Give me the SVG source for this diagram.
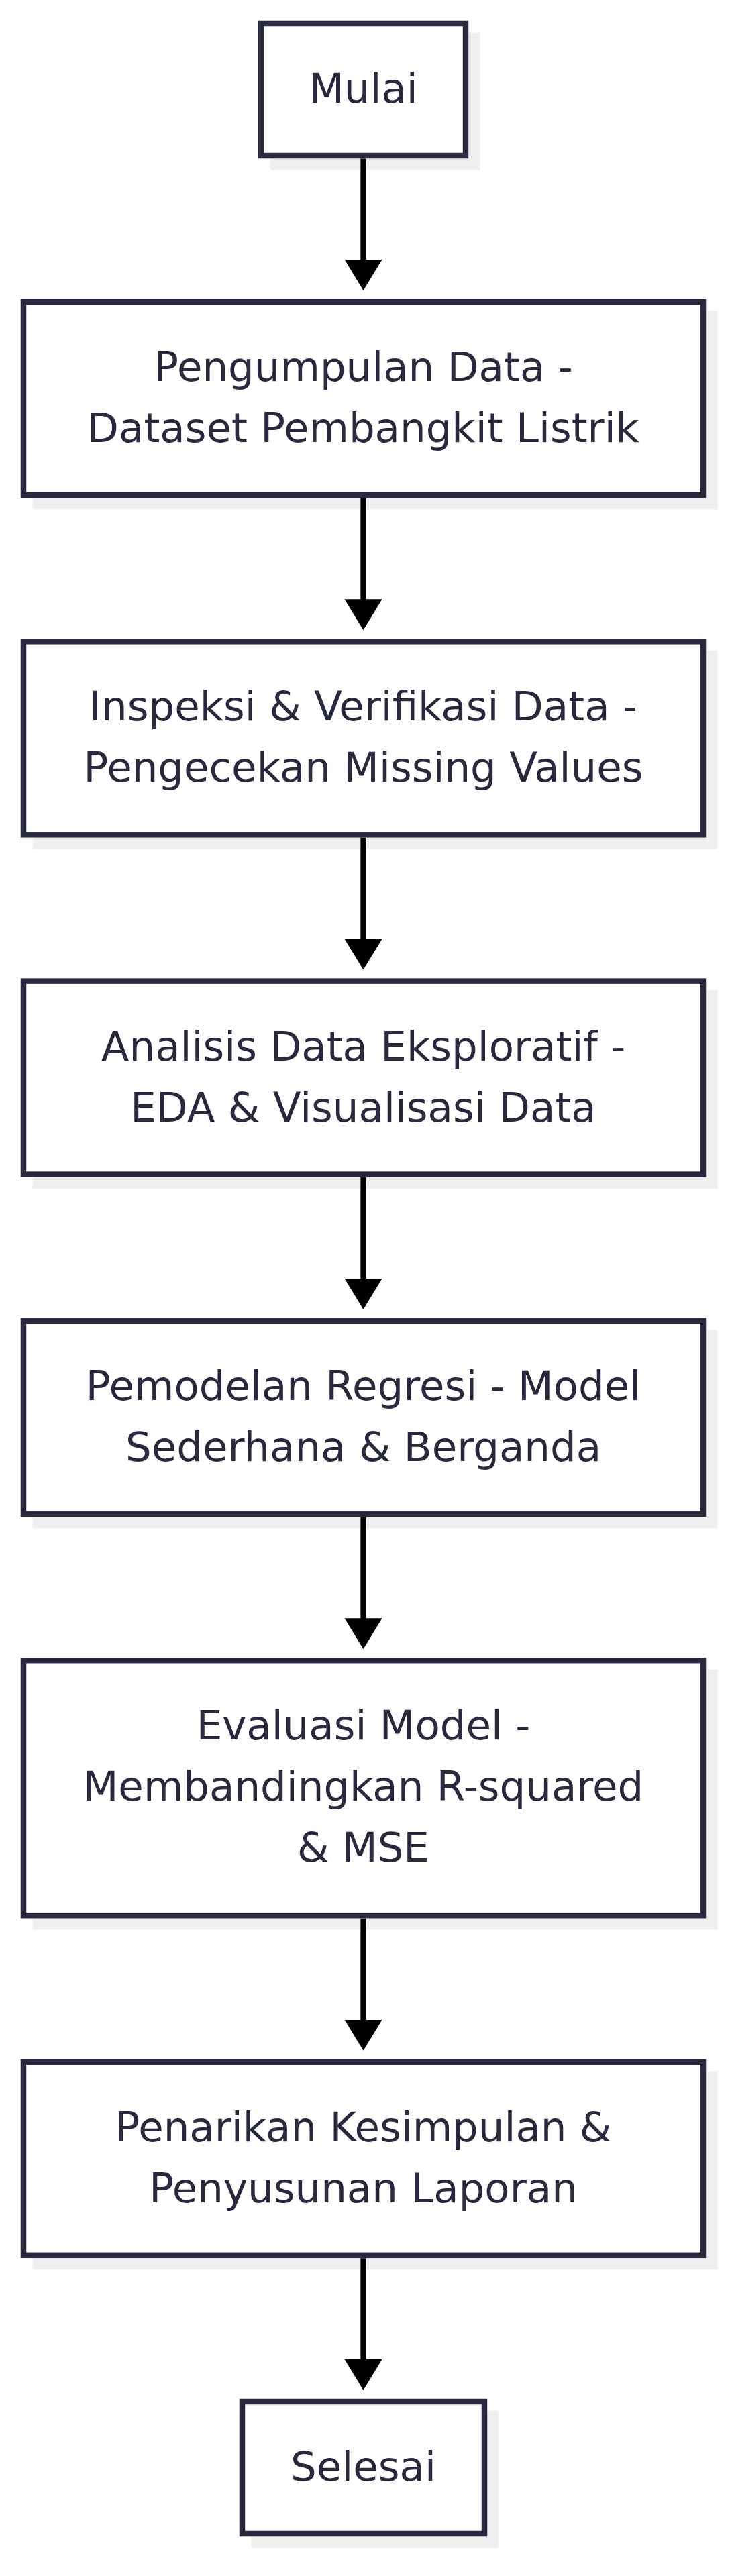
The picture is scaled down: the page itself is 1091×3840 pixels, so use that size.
<svg xmlns="http://www.w3.org/2000/svg" width="1091" height="3840" viewBox="0 0 1091 3840">
<style>
.sh{fill:#efefef}
.bx{fill:#ffffff;stroke:#28283e;stroke-width:8.5}
.t{font-family:"DejaVu Sans","Liberation Sans",sans-serif;font-size:61px;fill:#28283e;text-anchor:middle}
.ln{stroke:#000;stroke-width:8.3;fill:none}
</style>
<defs>
<marker id="ah" markerUnits="userSpaceOnUse" markerWidth="48" markerHeight="58" refX="2" refY="28" orient="auto" viewBox="0 0 48 58">
<path d="M0,0 L46,28 L0,56 z" fill="#000"/>
</marker>
</defs>
<rect width="1091" height="3840" fill="#ffffff"/>
<g id="n1">
<rect class="sh" x="402.5" y="48.5" width="313" height="205"/>
<rect class="bx" x="389" y="35" width="305" height="197"/>
<text class="t" x="541.5" y="153">Mulai</text>
</g>
<g id="n2">
<rect class="sh" x="48.5" y="463.5" width="1021" height="296"/>
<rect class="bx" x="35" y="450" width="1013" height="288"/>
<text class="t" x="541.5" y="568">Pengumpulan Data -</text>
<text class="t" x="541.5" y="659">Dataset Pembangkit Listrik</text>
</g>
<g id="n3">
<rect class="sh" x="48.5" y="969.8" width="1021" height="296"/>
<rect class="bx" x="35" y="956.3" width="1013" height="288"/>
<text class="t" x="541.5" y="1074.3">Inspeksi &amp; Verifikasi Data -</text>
<text class="t" x="541.5" y="1165.3">Pengecekan Missing Values</text>
</g>
<g id="n4">
<rect class="sh" x="48.5" y="1476.1" width="1021" height="296"/>
<rect class="bx" x="35" y="1462.6" width="1013" height="288"/>
<text class="t" x="541.5" y="1580.6">Analisis Data Eksploratif -</text>
<text class="t" x="541.5" y="1671.6">EDA &amp; Visualisasi Data</text>
</g>
<g id="n5">
<rect class="sh" x="48.5" y="1982.4" width="1021" height="296"/>
<rect class="bx" x="35" y="1968.9" width="1013" height="288"/>
<text class="t" x="541.5" y="2086.9">Pemodelan Regresi - Model</text>
<text class="t" x="541.5" y="2177.9">Sederhana &amp; Berganda</text>
</g>
<g id="n6">
<rect class="sh" x="48.5" y="2488.7" width="1021" height="388"/>
<rect class="bx" x="35" y="2475.2" width="1013" height="380"/>
<text class="t" x="541.5" y="2593.3">Evaluasi Model -</text>
<text class="t" x="541.5" y="2684.3">Membandingkan R-squared</text>
<text class="t" x="541.5" y="2775.3">&amp; MSE</text>
</g>
<g id="n7">
<rect class="sh" x="48.5" y="3087.3" width="1021" height="296"/>
<rect class="bx" x="35" y="3073.8" width="1013" height="288"/>
<text class="t" x="541.5" y="3191.8">Penarikan Kesimpulan &amp;</text>
<text class="t" x="541.5" y="3282.8">Penyusunan Laporan</text>
</g>
<g id="n8">
<rect class="sh" x="374.5" y="3593.5" width="369" height="205"/>
<rect class="bx" x="361" y="3580" width="361" height="197"/>
<text class="t" x="541.5" y="3698">Selesai</text>
</g>
<g id="connectors">
<line class="ln" x1="541.5" y1="236.5" x2="541.5" y2="389" marker-end="url(#ah)"/>
<line class="ln" x1="541.5" y1="742.5" x2="541.5" y2="895.3" marker-end="url(#ah)"/>
<line class="ln" x1="541.5" y1="1248.8" x2="541.5" y2="1401.6" marker-end="url(#ah)"/>
<line class="ln" x1="541.5" y1="1755.1" x2="541.5" y2="1907.9" marker-end="url(#ah)"/>
<line class="ln" x1="541.5" y1="2261.4" x2="541.5" y2="2414.2" marker-end="url(#ah)"/>
<line class="ln" x1="541.5" y1="2859.7" x2="541.5" y2="3012.8" marker-end="url(#ah)"/>
<line class="ln" x1="541.5" y1="3366.3" x2="541.5" y2="3519" marker-end="url(#ah)"/>
</g>
</svg>
